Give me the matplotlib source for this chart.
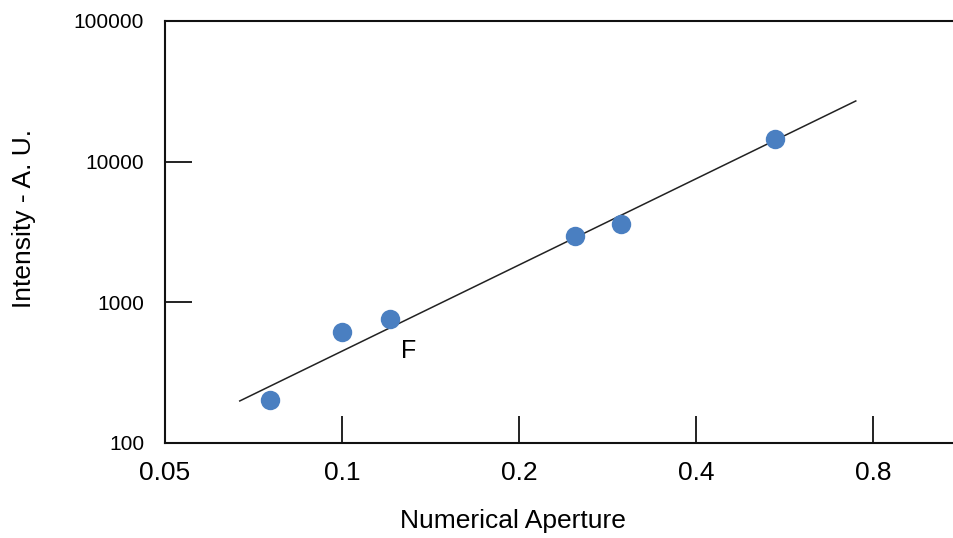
import matplotlib.pyplot as plt
from matplotlib.ticker import FixedLocator, FixedFormatter, NullLocator

# measured points
na = [0.0754, 0.100, 0.1207, 0.249, 0.298, 0.545]
intensity = [202, 615, 761, 2960, 3600, 14500]

# fitted trend line end points
fit_na = [0.067, 0.748]
fit_intensity = [199, 27000]

x_ticks = [0.05, 0.1, 0.2, 0.4, 0.8]
x_labels = ['0.05', '0.1', '0.2', '0.4', '0.8']
y_ticks = [100, 1000, 10000, 100000]
y_labels = ['100', '1000', '10000', '100000']

plt.rcParams['font.family'] = ['Liberation Sans', 'DejaVu Sans']

fig = plt.figure(figsize=(9.54, 5.38), dpi=100)
ax = fig.add_axes([0.173, 0.1766, 0.827, 0.7844])

ax.set_xscale('log')
ax.set_yscale('log')
ax.set_xlim(0.05, 1.099)
ax.set_ylim(100, 100000)

ax.plot(fit_na, fit_intensity, color='#222222', lw=1.1, zorder=2)
ax.plot(na, intensity, 'o', color='#4a7fc1', ms=14, mec='none', zorder=3)
ax.text(0.130, 451, 'F', fontsize=18, ha='center', va='center')

ax.xaxis.set_major_locator(FixedLocator(x_ticks))
ax.xaxis.set_major_formatter(FixedFormatter(x_labels))
ax.xaxis.set_minor_locator(NullLocator())
ax.yaxis.set_major_locator(FixedLocator(y_ticks))
ax.yaxis.set_major_formatter(FixedFormatter(y_labels))
ax.yaxis.set_minor_locator(NullLocator())

ax.tick_params(axis='both', direction='in', length=19.5, width=1.3, color='#111111')
ax.tick_params(axis='x', labelsize=19, pad=13)
ax.tick_params(axis='y', labelsize=15, pad=15)

ax.spines['right'].set_visible(False)
for s in ['left', 'top', 'bottom']:
    ax.spines[s].set_linewidth(1.5)
    ax.spines[s].set_color('#111111')

ax.set_xlabel('Numerical Aperture', fontsize=19)
ax.set_ylabel('Intensity - A. U.', fontsize=19)
ax.xaxis.set_label_coords(0.441, -0.157)
ax.yaxis.set_label_coords(-0.163, 0.531)

fig.savefig('out.png', dpi=100)
